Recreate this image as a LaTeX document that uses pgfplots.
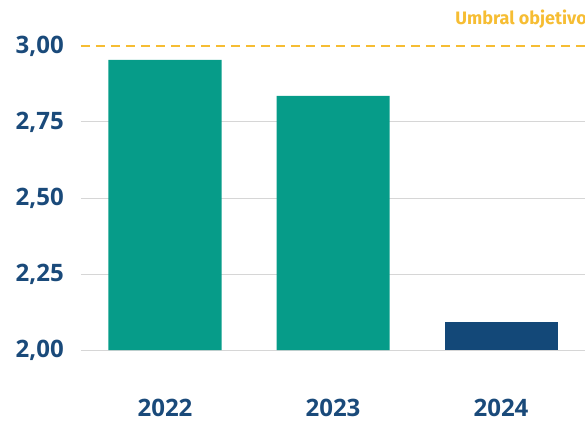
\documentclass[border=0pt]{standalone}
\usepackage{fontspec}
\setmainfont{Fira Sans}
\newfontfamily\tickfont{Open Sans}
\usepackage{pgfplots}
\pgfplotsset{compat=1.18}
\definecolor{teal1}{HTML}{069C89}
\definecolor{navy1}{HTML}{134878}
\definecolor{txtblue}{HTML}{1A4A7A}
\definecolor{gold1}{HTML}{F6BD33}
\definecolor{grid1}{HTML}{D6D6D6}
\begin{document}
\begin{tikzpicture}
\begin{axis}[
  scale only axis,
  width=504pt, height=304pt,
  xmin=-0.5, xmax=2.5,
  ymin=2, ymax=3,
  axis line style={draw=none},
  major tick length=0pt,
  xtick={0,1,2},
  xticklabels={2022,2023,2024},
  ytick={2,2.25,2.5,2.75},
  yticklabels={{2,00},{2,25},{2,50},{2,75}},
  extra y ticks={3},
  extra y tick labels={3{,}00},
  extra y tick style={grid=none},
  ymajorgrids,
  major grid style={grid1, line width=1pt},
  tick label style={font=\tickfont\fontsize{24}{28}\selectfont\bfseries, text=txtblue},
  yticklabel style={anchor=east, inner sep=0pt, xshift=-17pt},
  xticklabel style={anchor=base, inner sep=0pt, yshift=-66pt},
  ybar, bar width=113pt,
]
\addplot[fill=teal1, draw=none, bar shift=0pt] coordinates {(0,2.954) (1,2.836)};
\addplot[fill=navy1, draw=none, bar shift=0pt] coordinates {(2,2.092)};
\addplot[sharp plot, gold1, line width=2pt, dash pattern=on 9pt off 6pt] coordinates {(-0.5,3) (2.5,3)};
\coordinate (bl) at (rel axis cs:0,0);
\coordinate (tr) at (rel axis cs:1,1);
\end{axis}
\node[anchor=base east, inner sep=0pt, text=gold1, font=\fontsize{18}{21}\selectfont\bfseries] at ([shift={(2pt,21pt)}]tr) {Umbral objetivo};
\pgfresetboundingbox
\path[use as bounding box] ([shift={(-81pt,-70pt)}]bl) rectangle ([shift={(0pt,46pt)}]tr);
\end{tikzpicture}
\end{document}
